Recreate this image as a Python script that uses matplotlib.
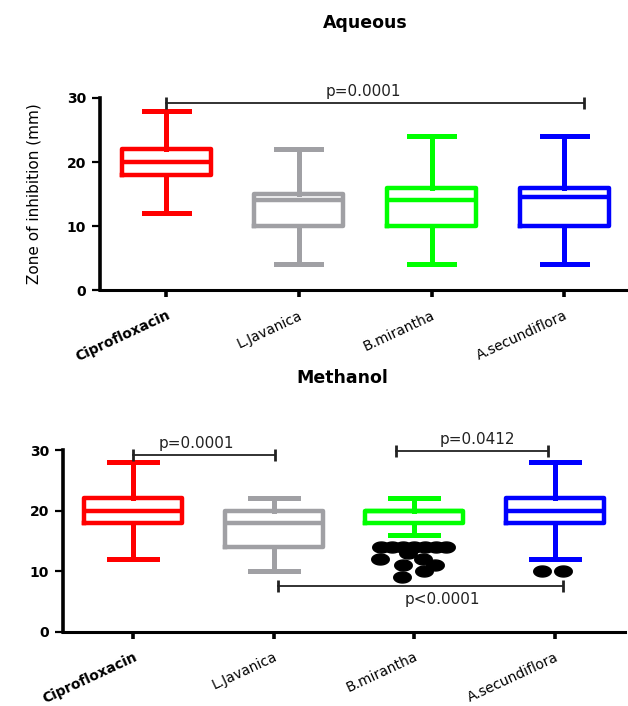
#!/usr/bin/env python3
"""Zone of inhibition box plots, aqueous vs methanol extracts"""
# -*- coding: utf-8 -*-

import numpy as np
import matplotlib
matplotlib.use('Agg')
import matplotlib.pyplot as plt
from matplotlib.path import Path

plt.rcParams['font.family'] = ['DejaVu Sans']

categories = ['Ciprofloxacin', 'L.Javanica', 'B.mirantha', 'A.secundiflora']
colors = ['#FF0000', '#A0A0A4', '#00FF00', '#0000FF']

# aqueous: (whislo, q1, median, q3, whishi)
aq_whislo = [12, 4, 4, 4]
aq_q1 = [18, 10, 10, 10]
aq_med = [20, 14, 14, 14.5]
aq_q3 = [22, 15, 16, 16]
aq_whishi = [28, 22, 24, 24]

# methanol
me_whislo = [12, 10, 16, 12]
me_q1 = [18, 14, 18, 18]
me_med = [20, 18, 20, 20]
me_q3 = [22, 20, 20, 22]
me_whishi = [28, 22, 22, 28]

# outliers (methanol) and their horizontal jitter within the group
bm_out = [14, 14, 14, 14, 14, 14, 14, 13, 12, 12, 11, 11, 10, 9]
bm_jit = [-0.235, -0.157, -0.078, 0.0, 0.078, 0.157, 0.228,
          -0.043, -0.242, 0.064, -0.078, 0.15, 0.071, -0.085]
as_out = [10, 10]
as_jit = [-0.093, 0.061]

# significance brackets: (x1, x2, y, label, text_x, text_y, va)
aq_brackets = [(0, 3.15, 29.2, 'p=0.0001', 1.49, 29.9, 'bottom')]
me_brackets = [(0, 1.01, 29.25, 'p=0.0001', 0.45, 29.8, 'bottom'),
               (1.87, 2.95, 29.9, 'p=0.0412', 2.45, 30.5, 'bottom'),
               (1.03, 3.06, 7.6, 'p<0.0001', 2.2, 6.6, 'top')]


def make_stats(lo, q1, med, q3, hi):
    return [dict(whislo=a, q1=b, med=c, q3=d, whishi=e, fliers=[])
            for a, b, c, d, e in zip(lo, q1, med, q3, hi)]


def style_axes(ax):
    ax.spines['top'].set_visible(False)
    ax.spines['right'].set_visible(False)
    ax.spines['left'].set_linewidth(2.6)
    ax.spines['bottom'].set_linewidth(2.2)
    ax.set_xlim(-0.5, 3.5)
    ax.set_ylim(0, 30)
    ax.set_yticks([0, 10, 20, 30])
    ax.set_xticks(range(len(categories)))
    ax.tick_params(axis='y', length=6, width=1.6, labelsize=10, pad=4)
    ax.tick_params(axis='x', length=5, width=2.6, pad=8)
    for lab in ax.get_yticklabels():
        lab.set_fontweight('bold')
    ax.set_xticklabels(categories, rotation=25, ha='right', va='top',
                       rotation_mode='anchor', fontsize=10)
    ax.get_xticklabels()[0].set_fontweight('bold')


def draw_boxes(ax, stats, width):
    art = ax.bxp(stats, positions=range(len(stats)), widths=width,
                 capwidths=0.34, showfliers=False, patch_artist=False)
    for i, c in enumerate(colors):
        art['boxes'][i].set(color=c, linewidth=3.2)
        art['medians'][i].set(color=c, linewidth=3.2)
        for w in art['whiskers'][2 * i:2 * i + 2]:
            w.set(color=c, linewidth=3.6)
        for cp in art['caps'][2 * i:2 * i + 2]:
            cp.set(color=c, linewidth=3.6)


def draw_brackets(ax, brackets):
    for x1, x2, y, label, tx, ty, va in brackets:
        ax.plot([x1, x2], [y, y], color='#222222', lw=1.3, marker='|',
                ms=9, mew=2, clip_on=False)
        ax.text(tx, ty, label, ha='center', va=va, fontsize=11,
                color='#222222', clip_on=False)


fig = plt.figure(figsize=(6.28, 7.06), dpi=100)

# Aqueous panel
ax1 = fig.add_axes([0.159, 0.5892, 0.845, 0.2720])
draw_boxes(ax1, make_stats(aq_whislo, aq_q1, aq_med, aq_q3, aq_whishi), 0.67)
style_axes(ax1)
draw_brackets(ax1, aq_brackets)
ax1.set_ylabel('Zone of inhibition (mm)', fontsize=11, labelpad=18)
fig.text(0.581, 0.967, 'Aqueous', ha='center', va='center',
         fontsize=12.5, fontweight='bold')

# Methanol panel
ax2 = fig.add_axes([0.1003, 0.1052, 0.895, 0.2574])
draw_boxes(ax2, make_stats(me_whislo, me_q1, me_med, me_q3, me_whishi), 0.70)
style_axes(ax2)
draw_brackets(ax2, me_brackets)

ellipse = Path(np.column_stack([1.6 * np.cos(np.linspace(0, 2 * np.pi, 40)),
                                np.sin(np.linspace(0, 2 * np.pi, 40))]))
ax2.scatter(2 + np.array(bm_jit), bm_out, marker=ellipse, s=160,
            color='black', zorder=3, clip_on=False)
ax2.scatter(3 + np.array(as_jit), as_out, marker=ellipse, s=160,
            color='black', zorder=3, clip_on=False)

fig.text(0.545, 0.465, 'Methanol', ha='center', va='center',
         fontsize=12.5, fontweight='bold')

fig.savefig('out.png', dpi=100)
